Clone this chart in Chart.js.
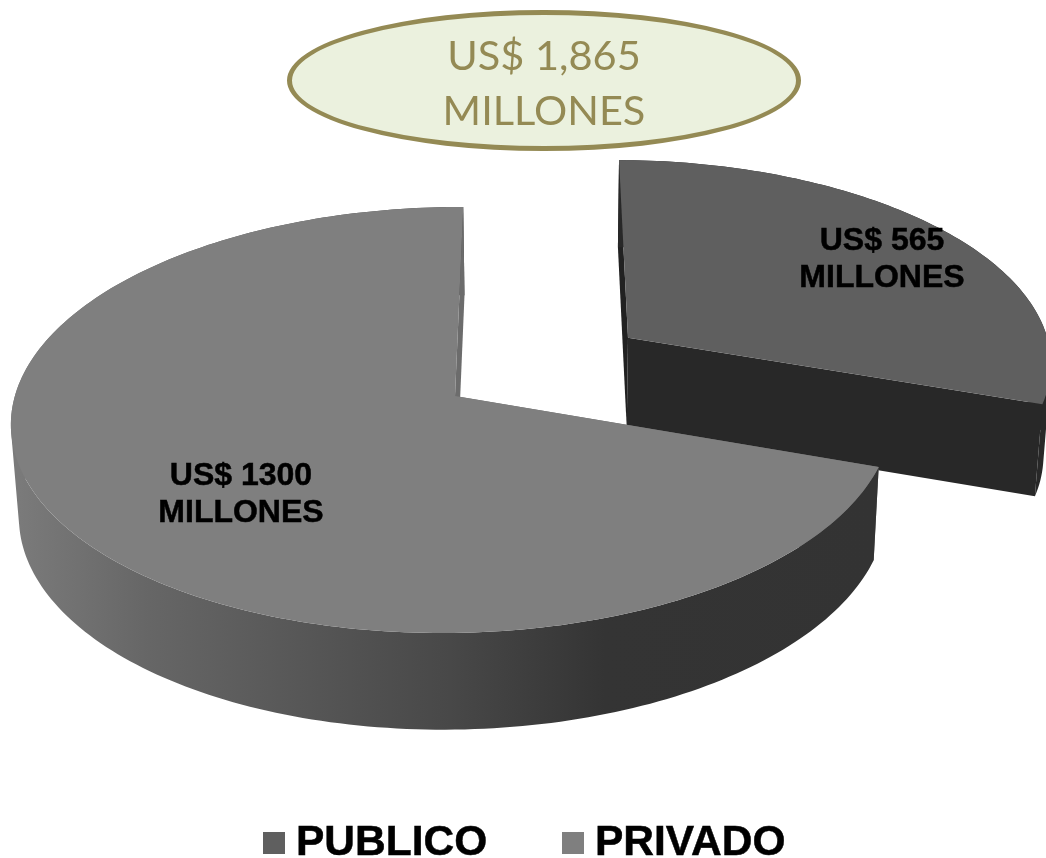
<!DOCTYPE html>
<html>
<head>
<meta charset="utf-8">
<title>Inversion</title>
<script src="https://cdn.jsdelivr.net/npm/chart.js@4"></script>
<style>
html, body { margin: 0; padding: 0; background: #fff; overflow: hidden; }
#wrap { position: relative; width: 1046px; height: 858px; overflow: hidden; }
#total {
    position: absolute; left: 287px; top: 10px; width: 514px; height: 141px; box-sizing: border-box;
    border: 5px solid #948a54; border-radius: 50%; background: #ebf1de; color: #948a54;
    font: 41.5px/55px Lato, sans-serif; text-align: center; padding-top: 12px;
}
.legendItem { position: absolute; top: 817px; font: bold 42.5px/48px "Liberation Sans", Arial, sans-serif; color: #000; white-space: nowrap; -webkit-text-stroke: 0.5px #000; }
.legendItem i { position: absolute; left: -33px; top: 15px; width: 22px; height: 22px; }
</style>
</head>
<body>
<div id="wrap">
    <canvas id="myChart" width="1046" height="858"></canvas>
    <div id="total">US$ 1,865<br>MILLONES</div>
</div>
<script>
const categories = ['PUBLICO', 'PRIVADO'];
const values = [565, 1300];
const colors = ['#5f5f5f', '#7f7f7f'];
const explode = [0.495, 0];
const legendLeft = [296, 595];
const labelCenters = [[882, 241], [241, 476]];

// perspectiva del disco: el centro y los factores se leyeron de la imagen
const view = { cx: 455, cy: 396, a: 437.5, b: 210.3, skew: 9.2, p: 0.1127, q: 0.006 };

function project(u, v) {
    const w = 1 + view.q * u + view.p * v;
    return {
        x: view.cx + (view.a * u + view.skew * v) / w,
        y: view.cy - view.b * v / w
    };
}

// punto de la cara inferior que corresponde a uno de la cara superior
function lower(pt) {
    return { x: pt.x + (545 - pt.x) * 0.015, y: pt.y + 84 + 0.02 * pt.y };
}

function tracePath(ctx, pts) {
    pts.forEach((pt, i) => i ? ctx.lineTo(pt.x, pt.y) : ctx.moveTo(pt.x, pt.y));
    ctx.closePath();
}

function fillPath(ctx, pts, fill) {
    ctx.beginPath();
    tracePath(ctx, pts);
    ctx.fillStyle = fill;
    ctx.fill();
}

// todos los cuadros del borde en un solo path y con el mismo sentido, asi no quedan rayas
function fillBand(ctx, rim, fill) {
    ctx.beginPath();
    for (let s = 0; s < rim.length - 1; s++) {
        const quad = [rim[s], rim[s + 1], lower(rim[s + 1]), lower(rim[s])];
        let area = 0;
        quad.forEach((pt, i) => {
            const next = quad[(i + 1) % 4];
            area += pt.x * next.y - next.x * pt.y;
        });
        tracePath(ctx, area < 0 ? quad.reverse() : quad);
    }
    ctx.fillStyle = fill;
    ctx.fill();
}

const pie3d = {
    id: 'pie3d',
    beforeDatasetsDraw(chart) {
        const ctx = chart.ctx;
        const arcs = chart.getDatasetMeta(0).data;

        const sideGradient = ctx.createLinearGradient(20, 0, 880, 0);
        sideGradient.addColorStop(0, '#7a7a7a');
        sideGradient.addColorStop(0.15, '#666666');
        sideGradient.addColorStop(0.5, '#484848');
        sideGradient.addColorStop(0.68, '#343434');
        sideGradient.addColorStop(1, '#333333');
        const sideFills = ['#282828', sideGradient];
        const cutFills = ['#212121', '#6c6c6c'];

        arcs.forEach((arc, i) => {
            const mid = (arc.startAngle + arc.endAngle) / 2;
            const ox = explode[i] * Math.cos(mid);
            const oy = -explode[i] * Math.sin(mid);
            const apex = project(ox, oy);

            const rim = [];
            const steps = Math.ceil((arc.endAngle - arc.startAngle) / 0.02);
            for (let s = 0; s <= steps; s++) {
                const ang = arc.startAngle + (arc.endAngle - arc.startAngle) * s / steps;
                rim.push(project(ox + Math.cos(ang), oy - Math.sin(ang)));
            }
            const first = rim[0];
            const last = rim[rim.length - 1];

            // primer corte, borde curvo, segundo corte y al final la cara de arriba
            fillPath(ctx, [apex, first, lower(first), lower(apex)], cutFills[i]);
            fillBand(ctx, rim, sideFills[i]);
            fillPath(ctx, [apex, last, lower(last), lower(apex)], i === 0 ? sideFills[0] : cutFills[i]);
            fillPath(ctx, [apex].concat(rim), arc.options.backgroundColor);
        });
        return false;
    },
    afterDraw(chart) {
        const ctx = chart.ctx;
        ctx.save();
        ctx.fillStyle = '#000';
        ctx.strokeStyle = '#000';
        ctx.lineWidth = 0.5;
        ctx.font = 'bold 32px "Liberation Sans", Arial, sans-serif';
        ctx.textAlign = 'center';
        ctx.textBaseline = 'middle';
        values.forEach((val, i) => {
            const [x, y] = labelCenters[i];
            ctx.fillText('US$ ' + val, x, y);
            ctx.strokeText('US$ ' + val, x, y);
            ctx.fillText('MILLONES', x, y + 37);
            ctx.strokeText('MILLONES', x, y + 37);
        });
        ctx.restore();
    }
};

new Chart(document.getElementById('myChart'), {
    type: 'pie',
    data: {
        labels: categories,
        datasets: [{ data: values, backgroundColor: colors, borderWidth: 0 }]
    },
    options: {
        responsive: false,
        animation: false,
        events: [],
        plugins: { legend: { display: false }, tooltip: { enabled: false } }
    },
    plugins: [pie3d]
});

// leyenda en html porque la de Chart.js separa mucho el cuadro del texto
categories.forEach((name, i) => {
    const item = document.createElement('div');
    item.className = 'legendItem';
    item.style.left = legendLeft[i] + 'px';
    item.innerHTML = `<i style="background:${colors[i]}"></i>${name}`;
    document.getElementById('wrap').appendChild(item);
});
</script>
</body>
</html>
